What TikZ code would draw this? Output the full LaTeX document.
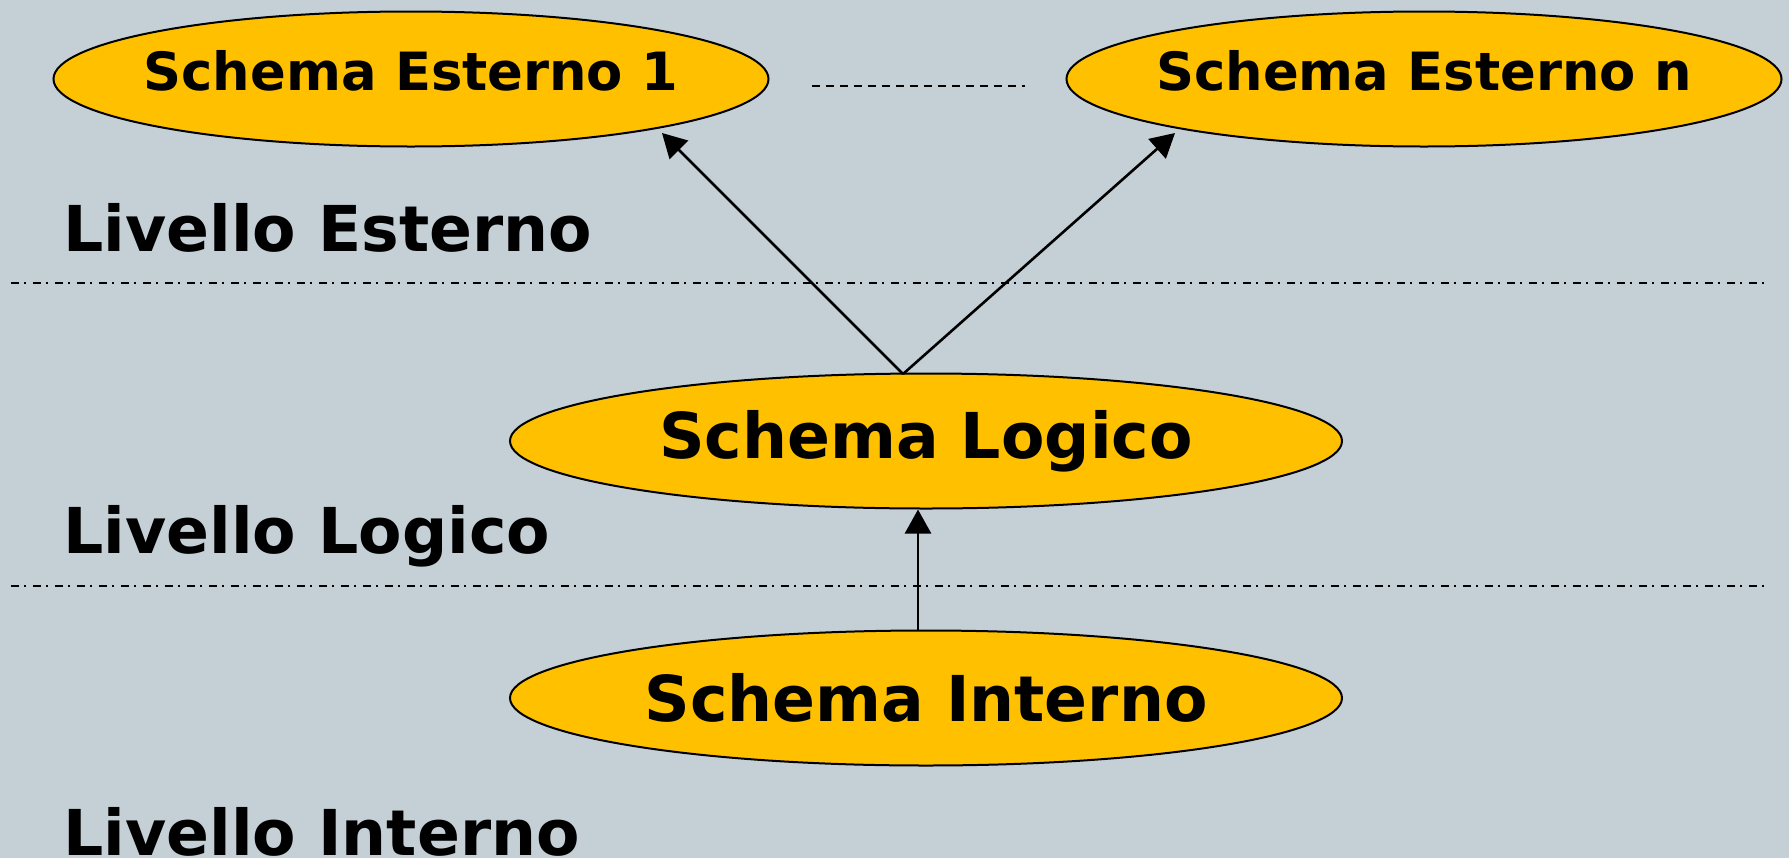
\documentclass[tikz,border=0pt]{standalone}
\usepackage{fontspec}
\setmainfont{DejaVu Sans}
\usetikzlibrary{shapes.geometric,arrows.meta}
\definecolor{bgcol}{RGB}{197,208,214}
\definecolor{schemafill}{RGB}{255,192,0}
\tikzset{
    schema/.style={ellipse, draw, line width=0.5mm, fill=schemafill, inner sep=0pt,
        minimum height=33.75mm},
    schematext/.style={font=\bfseries\fontsize{45}{54}\selectfont, inner sep=0pt},
    esternotext/.style={font=\bfseries\fontsize{37.5}{45}\selectfont, inner sep=0pt, yshift=6pt},
    livello/.style={font=\bfseries\fontsize{45}{54}\selectfont, anchor=base west, inner sep=0pt},
    sep/.style={line width=0.5mm, dash pattern=on 2mm off 1.25mm on 0.5mm off 1.75mm},
    arr/.style={line width=0.65mm, -{Triangle[length=6mm, width=6.5mm]}}
}
\begin{document}
\begin{tikzpicture}[x=0.25mm, y=-0.25mm]
        \fill[bgcol] (0,0) rectangle (1789,858);
        \useasboundingbox (0,0) rectangle (1789,858);
        % schemi
        \node[schema, minimum width=178.75mm,
            label={[esternotext]center:Schema Esterno 1}] (est1) at (411,79) {};
        \node[schema, minimum width=178.75mm,
            label={[esternotext]center:Schema Esterno n}] (estn) at (1424,79) {};
        \node[schema, minimum width=208mm] (logico) at (926,441) {};
        \node[schematext] (logicotxt) at (logico) {Schema Logico};
        \node[schema, minimum width=208mm] (interno) at (926,698) {};
        \node[schematext] (internotxt) at (interno) {Schema Interno};
        \draw[line width=0.5mm, dash pattern=on 2mm off 1.5mm] (812,86) -- (1025,86);
        % livelli
        \node[livello] (lest) at (63,251) {Livello Esterno};
        \node[livello] (llog) at (63,553) {Livello Logico};
        \node[livello] (lint) at (63,855) {Livello Interno};
        \draw[sep] (11,283) -- (1766,283);
        \draw[sep] (11,586) -- (1766,586);
        % frecce
        \coordinate (split) at (903,374);
        \coordinate (tip1) at (662,133);
        \coordinate (tipn) at (1175,133);
        \draw[arr] (split) -- (tip1);
        \draw[arr] (split) -- (tipn);
        \draw[arr] (interno.north -| 918,0) -- (logico.south -| 918,0);
    \end{tikzpicture}
\end{document}
